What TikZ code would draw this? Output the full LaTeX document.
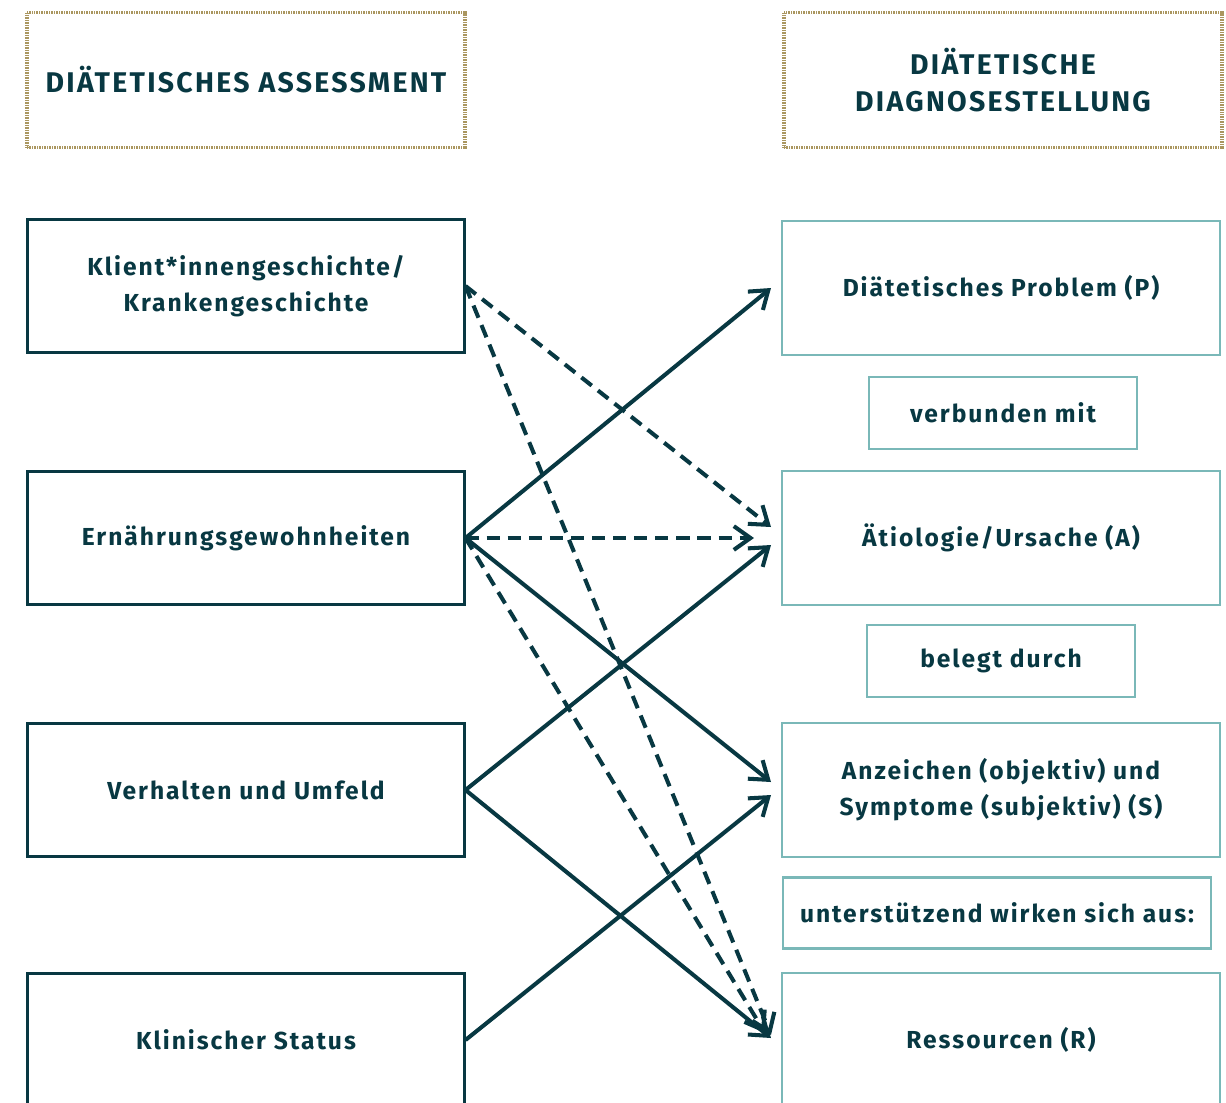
\documentclass[tikz,border=0pt]{standalone}
\usepackage{fontspec}
\setmainfont{Fira Sans}[LetterSpace=8]
\usetikzlibrary{arrows.meta}
\definecolor{darkteal}{RGB}{8,56,66}
\definecolor{lightteal}{RGB}{122,184,184}
\definecolor{headgold}{RGB}{170,150,95}
\tikzset{
  header/.style={draw=headgold, line width=2.2pt, dash pattern=on 0.5pt off 0.45pt,
    minimum width=8.76cm, minimum height=2.7cm, align=center, font=\fontsize{16.2}{21.5}\selectfont\bfseries},
  leftbox/.style={draw=darkteal, line width=1.2pt, minimum width=8.74cm, minimum height=2.66cm,
    align=center, font=\fontsize{14}{20.4}\selectfont\bfseries},
  rightbox/.style={leftbox, draw=lightteal, minimum width=8.76cm, minimum height=2.68cm},
  linkbox/.style={rightbox, minimum width=5.36cm, minimum height=1.44cm},
  solidarrow/.style={line width=2.3pt, -{Straight Barb[length=9.5pt,width=13.5pt,line width=2.3pt]}},
  dasharrow/.style={solidarrow, dash pattern=on 7.5pt off 4.5pt}
}
\begin{document}
\begin{tikzpicture}[x=0.02cm, y=-0.02cm, text=darkteal, darkteal]
      \useasboundingbox (0,0) rectangle (1226,1102);
      \draw
        (246,80) node[header] (assess){DIÄTETISCHES ASSESSMENT}
        (1003,80) node[header] (diag){DIÄTETISCHE\\DIAGNOSESTELLUNG};
      \draw
        (246,286) node[leftbox] (klient){Klient*innengeschichte/\\Krankengeschichte}
        (246,538) node[leftbox] (ernaehr){Ernährungsgewohnheiten}
        (246,790) node[leftbox] (verhalt){Verhalten und Umfeld}
        (246,1040) node[leftbox] (klinik){Klinischer Status};
      \draw
        (1001,288) node[rightbox] (problem){Diätetisches Problem (P)}
        (1003,413) node[linkbox] (verbund){verbunden mit}
        (1001,538) node[rightbox] (aetio){Ätiologie/Ursache (A)}
        (1001,661) node[linkbox] (belegt){belegt durch}
        (1001,790) node[rightbox] (anzeich){Anzeichen (objektiv) und\\Symptome (subjektiv) (S)}
        (997,913) node[linkbox, minimum width=8.56cm, minimum height=1.42cm] (unterst){unterstützend wirken sich aus:}
        (1001,1040) node[rightbox] (ressour){Ressourcen (R)};
      \begin{scope}[solidarrow]
        \draw (ernaehr.east) to ([xshift=-0.2cm]problem.west);
        \draw (verhalt.east) to ([xshift=-0.2cm,yshift=-0.14cm]aetio.west);
        \draw (ernaehr.east) to ([xshift=-0.2cm,yshift=0.16cm]anzeich.west);
        \draw (klinik.east) to ([xshift=-0.2cm,yshift=-0.1cm]anzeich.west);
        \draw (verhalt.east) to ([xshift=-0.2cm,yshift=0.04cm]ressour.west);
      \end{scope}
      \begin{scope}[dasharrow]
        \draw (klient.east) to ([xshift=-0.2cm,yshift=0.22cm]aetio.west);
        \draw (ernaehr.east) to ([xshift=-0.54cm]aetio.west);
        \draw (klient.east) to ([xshift=-0.2cm,yshift=0.1cm]ressour.west);
        \draw (ernaehr.east) to ([xshift=-0.32cm,yshift=0.14cm]ressour.west);
      \end{scope}
    \end{tikzpicture}
\end{document}
